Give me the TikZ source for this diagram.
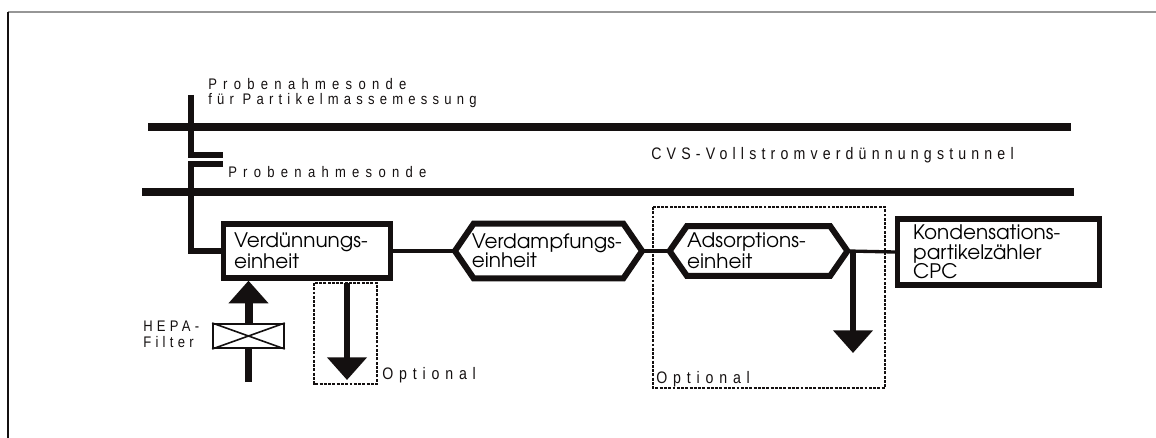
\documentclass[tikz,border=0pt]{standalone}
\usepackage{fontspec}
\setmainfont{Liberation Sans}
\newfontfamily\unitfont{TeX Gyre Adventor}
\newfontfamily\labelfont[FakeStretch=0.85]{Liberation Sans}
\usetikzlibrary{arrows.meta,positioning}
\definecolor{framegray}{RGB}{150,150,150}
\definecolor{inkblack}{RGB}{20,16,16}

\tikzset{
  tunnel/.style={line width=6.5pt,inkblack},
  probe/.style={line width=4pt,inkblack,line join=miter},
  pipe/.style={line width=2.5pt,inkblack},
  unitbox/.style={draw=inkblack,line width=4pt,fill=white,rectangle,
    font=\unitfont\fontsize{15pt}{15.75pt}\selectfont,align=left,inner xsep=0pt},
  unitcore/.style={rectangle,align=left,inner xsep=0pt,
    font=\unitfont\fontsize{15pt}{15.5pt}\selectfont},
  hexline/.style={line width=4.5pt,inkblack,line join=miter},
  flowarrow/.style={line width=5pt,inkblack,-{Triangle[width=29pt,length=17pt]}},
  optbox/.style={line width=1.4pt,inkblack,dash pattern=on 2.2pt off 1pt},
  txt/.style={anchor=base west,inner sep=0pt,text=inkblack}
}

\begin{document}
\begin{tikzpicture}[x=0.75pt,y=-0.75pt]
  \useasboundingbox (0,0) rectangle (1156,438);
  \draw[framegray,line width=1.2pt] (8,12) -- (1156,12);
  \draw[inkblack,line width=1.2pt] (8,12) -- (8,438);

  % Tunnel
  \draw[tunnel] (148,127) -- (1071,127);
  \draw[tunnel] (142,192) -- (1074,192);
  \node[txt,font=\labelfont\fontsize{12.5pt}{14pt}\selectfont\addfontfeature{LetterSpace=31}] (cvs) at (651,160) {CVS-Vollstromverdünnungstunnel};

  % Probes
  \coordinate (pmtop) at (191,95);
  \coordinate (pmend) at (223,155);
  \coordinate (pnend) at (223,164);
  \coordinate (pnbend) at (191,164);
  \draw[probe] (pmtop) |- (pmend);
  \node[txt,font=\labelfont\fontsize{11.5pt}{12pt}\selectfont\addfontfeature{LetterSpace=41}] (pmtxt) at (208,90) {Probenahmesonde};
  \node[txt,font=\labelfont\fontsize{11.5pt}{12pt}\selectfont\addfontfeature{LetterSpace=34}] (pmtxtb) at (208,105) {für Partikelmassemessung};
  \node[txt,font=\labelfont\fontsize{11.5pt}{12pt}\selectfont\addfontfeature{LetterSpace=41}] (pntxt) at (228,178) {Probenahmesonde};

  % Units
  \node[unitbox,minimum width=125pt,minimum height=40.5pt,text width=109.5pt] (verd) at (307,251) {\mbox{Verdünnungs-}\\einheit};
  \node[unitcore,minimum width=140pt,minimum height=40.5pt,text width=115pt,
    font=\unitfont\fontsize{15pt}{14.5pt}\selectfont] (vdampf) at (548.5,251) {\mbox{Verdampfungs-}\\einheit};
  \node[unitcore,minimum width=133pt,minimum height=37pt,text width=107pt] (adsorp) at (758.5,251) {\mbox{Adsorptions-}\\einheit};
  \node[unitbox,minimum width=151.5pt,minimum height=49.5pt,text width=128pt,
    font=\unitfont\fontsize{15pt}{14.5pt}\selectfont] (cpc) at (998.5,252) {\mbox{Kondensations-}\\partikelzähler\\CPC};
  \foreach \u/\c in {vdampf/14pt,adsorp/13pt}
    \draw[hexline] (\u.west) -- ([xshift=\c]\u.north west) -- ([xshift=-\c]\u.north east)
      -- (\u.east) -- ([xshift=-\c]\u.south east) -- ([xshift=\c]\u.south west) -- cycle;

  \draw[probe] (pnend) -| (pnbend |- verd.west) -- (verd.west);
  \draw[pipe] (verd.east) -- (vdampf.west);
  \draw[pipe] (vdampf.east) -- (adsorp.west);
  \draw[pipe] (adsorp.east) -- (cpc.west);

  % HEPA filter
  \node[draw=inkblack,line width=1.5pt,fill=white,minimum width=53pt,minimum height=18pt] (filter) at (248.5,336) {};
  \draw[inkblack,line width=1.2pt] (filter.north west) -- (filter.south east) (filter.south west) -- (filter.north east);
  \coordinate (hepain) at (248.5,382);
  \draw[flowarrow,-] (hepain) -- (filter.south);
  \draw[flowarrow,line width=6pt] (filter.north) -- (filter.north |- verd.south);
  \node[txt,font=\labelfont\fontsize{11.5pt}{12pt}\selectfont\addfontfeature{LetterSpace=28}] (hepatxt) at (143,331) {HEPA-};
  \node[txt,font=\labelfont\fontsize{11.5pt}{12pt}\selectfont\addfontfeature{LetterSpace=28}] (hepatxtb) at (143,347) {Filter};

  % Optional outlets
  \coordinate (bypass) at (347,283);
  \coordinate (bypassout) at (347,380);
  \draw[flowarrow] (bypass) -- (bypassout);
  \coordinate (branch) at (853,251);
  \coordinate (drain) at (853,353);
  \draw[flowarrow] (branch) -- (drain);
  \draw[optbox] (314,283) rectangle (377,384);
  \draw[optbox] (653,207) rectangle (885,388);
  \node[txt,font=\labelfont\fontsize{12.5pt}{14pt}\selectfont\addfontfeature{LetterSpace=35}] (opta) at (382,379) {Optional};
  \node[txt,font=\labelfont\fontsize{12.5pt}{14pt}\selectfont\addfontfeature{LetterSpace=35}] (optb) at (656,383) {Optional};
\end{tikzpicture}
\end{document}
